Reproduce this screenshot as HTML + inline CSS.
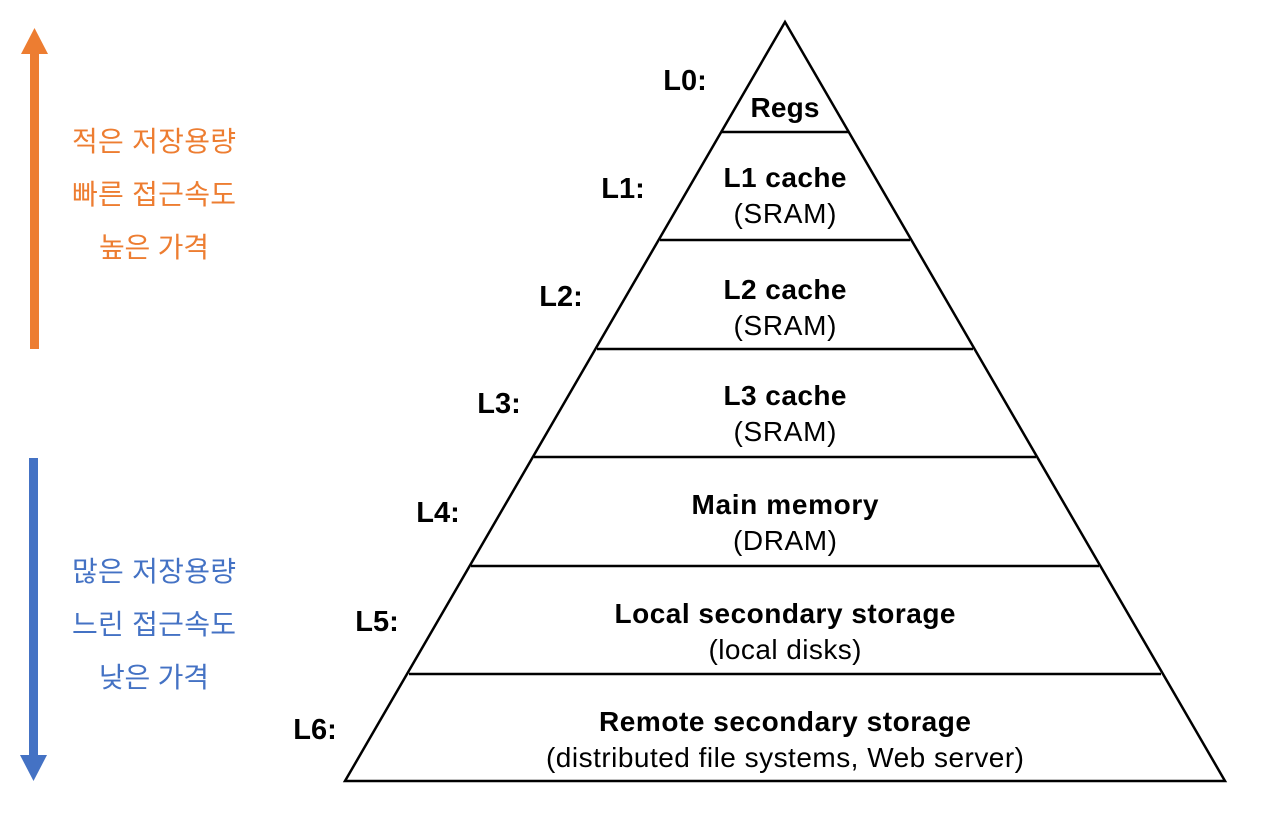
<!DOCTYPE html>
<html><head><meta charset="utf-8"><style>
body{margin:0;background:#fff;}
svg text{font-family:"Liberation Sans","Noto Sans CJK KR",sans-serif;}
</style></head><body>
<svg width="1262" height="810" viewBox="0 0 1262 810" xmlns="http://www.w3.org/2000/svg">
<rect width="1262" height="810" fill="#fff"/>
<rect x="30" y="53" width="9" height="296" fill="#ED7D31"/>
<polygon points="34.5,28 21,54 48,54" fill="#ED7D31"/>
<rect x="29" y="458" width="9" height="298" fill="#4472C4"/>
<polygon points="33.5,781 20,755 47,755" fill="#4472C4"/>
<g font-size="28" text-anchor="middle">
<text x="154" y="151" fill="#ED7D31" textLength="164">적은 저장용량</text>
<text x="154" y="204" fill="#ED7D31" textLength="164">빠른 접근속도</text>
<text x="154" y="257" fill="#ED7D31" textLength="110">높은 가격</text>
<text x="154" y="581" fill="#4472C4" textLength="164">많은 저장용량</text>
<text x="154" y="634" fill="#4472C4" textLength="164">느린 접근속도</text>
<text x="154" y="687" fill="#4472C4" textLength="110">낮은 가격</text>
</g>
<g stroke="#000" stroke-width="2.5" fill="none">
<polygon points="785,22 345,781 1225,781"/>
<line x1="721" y1="132" x2="849" y2="132"/>
<line x1="660" y1="240" x2="910" y2="240"/>
<line x1="597" y1="349" x2="973" y2="349"/>
<line x1="534" y1="457" x2="1036" y2="457"/>
<line x1="471" y1="566" x2="1099" y2="566"/>
<line x1="409" y1="674" x2="1161" y2="674"/>
</g>
<g font-size="29" font-weight="bold" text-anchor="middle">
<text x="685" y="90">L0:</text>
<text x="623" y="198">L1:</text>
<text x="561" y="306">L2:</text>
<text x="499" y="413">L3:</text>
<text x="438" y="522">L4:</text>
<text x="377" y="631">L5:</text>
<text x="315" y="739">L6:</text>
</g>
<g font-size="28" text-anchor="middle">
<text x="785" y="117" font-weight="bold" textLength="69">Regs</text>
<text x="785" y="187" font-weight="bold" textLength="123">L1 cache</text>
<text x="785" y="223" textLength="103">(SRAM)</text>
<text x="785" y="299" font-weight="bold" textLength="123">L2 cache</text>
<text x="785" y="335" textLength="103">(SRAM)</text>
<text x="785" y="405" font-weight="bold" textLength="123">L3 cache</text>
<text x="785" y="441" textLength="103">(SRAM)</text>
<text x="785" y="514" font-weight="bold" textLength="187">Main memory</text>
<text x="785" y="550" textLength="104">(DRAM)</text>
<text x="785" y="623" font-weight="bold" textLength="341">Local secondary storage</text>
<text x="785" y="659" textLength="153">(local disks)</text>
<text x="785" y="731" font-weight="bold" textLength="372">Remote secondary storage</text>
<text x="785" y="767" textLength="478">(distributed file systems, Web server)</text>
</g>
</svg>
</body></html>
